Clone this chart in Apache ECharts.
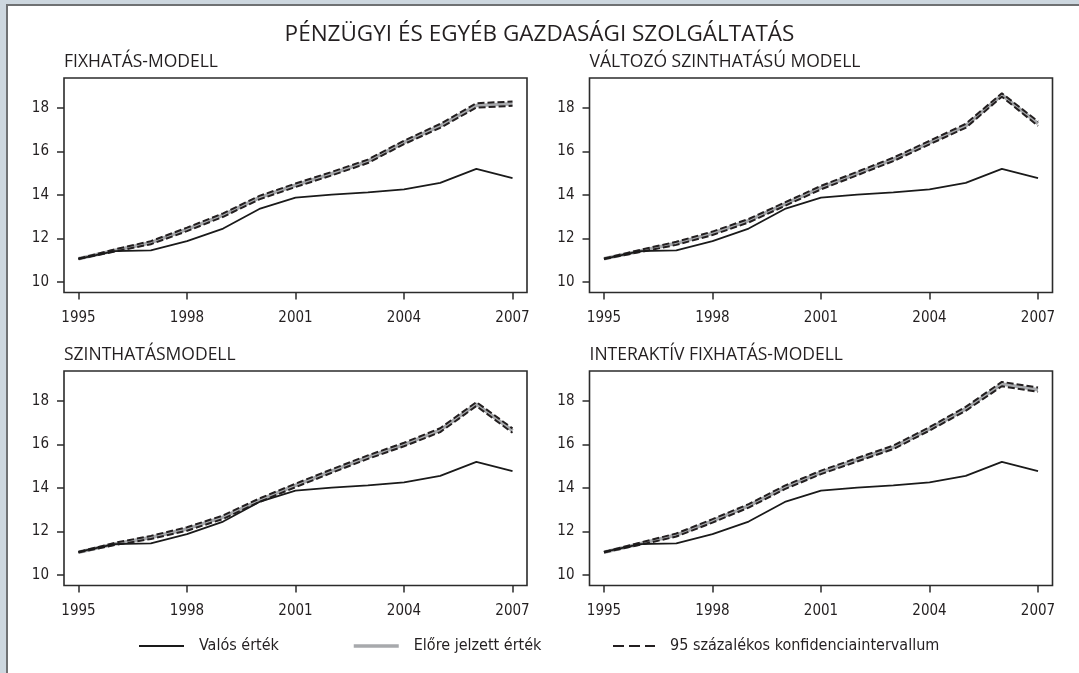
<!DOCTYPE html>
<html>
<head>
<meta charset="utf-8">
<title>Pénzügyi és egyéb gazdasági szolgáltatás</title>
<script src="https://cdn.jsdelivr.net/npm/echarts@6/dist/echarts.min.js"></script>
<style>
  html, body { margin: 0; padding: 0; background: #cdd7df; }
  .frame {
    position: absolute; left: 6px; top: 4px; right: 0; bottom: 0;
    background: #fff;
    border-left: 2px solid #6f7173;
    border-top: 2px solid #6f7173;
  }
  #chart { position: absolute; left: 0; top: 0; width: 1079px; height: 673px; }
</style>
</head>
<body>
<div class="frame"></div>
<div id="chart"></div>
<script>
// adatok (ábráról leolvasva)
const years = [1995, 1996, 1997, 1998, 1999, 2000, 2001, 2002, 2003, 2004, 2005, 2006, 2007]
const yearTicks = [1995, 1998, 2001, 2004, 2007]
const valueTicks = [10, 12, 14, 16, 18]

const actual = [11.07, 11.42, 11.46, 11.88, 12.46, 13.36, 13.88, 14.02, 14.12, 14.26, 14.56, 15.20, 14.78]

const predFixed = [11.07, 11.45, 11.81, 12.42, 13.08, 13.88, 14.45, 14.98, 15.55, 16.42, 17.18, 18.12, 18.20]
const upperFixed = [11.08, 11.50, 11.88, 12.50, 13.16, 13.96, 14.53, 15.06, 15.63, 16.50, 17.27, 18.22, 18.30]
const lowerFixed = [11.06, 11.40, 11.74, 12.34, 13.00, 13.80, 14.37, 14.90, 15.47, 16.34, 17.09, 18.02, 18.10]

const predVarying = [11.07, 11.43, 11.78, 12.24, 12.82, 13.58, 14.34, 14.99, 15.64, 16.41, 17.18, 18.60, 17.28]
const upperVarying = [11.08, 11.48, 11.85, 12.32, 12.90, 13.66, 14.42, 15.07, 15.72, 16.49, 17.27, 18.68, 17.38]
const lowerVarying = [11.06, 11.38, 11.71, 12.16, 12.74, 13.50, 14.26, 14.91, 15.56, 16.33, 17.09, 18.52, 17.18]

const predLevel = [11.05, 11.43, 11.73, 12.12, 12.66, 13.44, 14.12, 14.78, 15.42, 16.00, 16.66, 17.86, 16.64]
const upperLevel = [11.06, 11.48, 11.80, 12.20, 12.74, 13.52, 14.20, 14.86, 15.50, 16.08, 16.75, 17.95, 16.74]
const lowerLevel = [11.04, 11.38, 11.66, 12.04, 12.58, 13.36, 14.04, 14.70, 15.34, 15.92, 16.57, 17.77, 16.54]

const predInteractive = [11.05, 11.44, 11.84, 12.49, 13.18, 14.03, 14.72, 15.30, 15.87, 16.72, 17.64, 18.78, 18.52]
const upperInteractive = [11.06, 11.49, 11.91, 12.57, 13.26, 14.11, 14.80, 15.38, 15.95, 16.80, 17.73, 18.88, 18.62]
const lowerInteractive = [11.04, 11.39, 11.77, 12.41, 13.10, 13.95, 14.64, 15.22, 15.79, 16.64, 17.55, 18.68, 18.42]

const mainTitle = 'PÉNZÜGYI ÉS EGYÉB GAZDASÁGI SZOLGÁLTATÁS'
const panelTitles = ['FIXHATÁS-MODELL', 'VÁLTOZÓ SZINTHATÁSÚ MODELL', 'SZINTHATÁSMODELL', 'INTERAKTÍV FIXHATÁS-MODELL']
const nameActual = 'Valós érték'
const namePred = 'Előre jelzett érték'
const nameCI = '95 százalékos konfidenciaintervallum'

const panels = [
  { pred: predFixed, upper: upperFixed, lower: lowerFixed },
  { pred: predVarying, upper: upperVarying, lower: lowerVarying },
  { pred: predLevel, upper: upperLevel, lower: lowerLevel },
  { pred: predInteractive, upper: upperInteractive, lower: lowerInteractive }
]

// stílus
const textColor = '#231f20'
const titleFont = "'Open Sans', 'Noto Sans', sans-serif"
const narrowFont = "'Liberation Sans Narrow', 'DejaVu Sans Condensed', sans-serif"

const gridPos = [
  { left: 64, top: 78 },
  { left: 589.5, top: 78 },
  { left: 64, top: 371 },
  { left: 589.5, top: 371 }
]

const toPairs = (arr) => years.map((y, i) => [y, arr[i]])

const grids = gridPos.map(p => ({
  left: p.left,
  top: p.top,
  width: 463,
  height: 214.5,
  show: true,
  borderColor: '#2b2b2b',
  borderWidth: 1.6,
  backgroundColor: 'transparent'
}))

const xAxes = gridPos.map((p, i) => ({
  type: 'value',
  gridIndex: i,
  min: 1994.6,
  max: 2007.4,
  splitLine: { show: false },
  axisLine: { show: false },
  axisTick: { show: true, length: 7, customValues: yearTicks, lineStyle: { color: '#2b2b2b', width: 1.5 } },
  axisLabel: {
    customValues: yearTicks,
    margin: 18,
    fontFamily: narrowFont,
    fontSize: 15,
    color: textColor,
    formatter: v => String(v)
  }
}))

const yAxes = gridPos.map((p, i) => ({
  type: 'value',
  gridIndex: i,
  min: 9.52,
  max: 19.38,
  splitLine: { show: false },
  axisLine: { show: false },
  axisTick: { show: true, length: 7, customValues: valueTicks, lineStyle: { color: '#2b2b2b', width: 1.5 } },
  axisLabel: {
    customValues: valueTicks,
    margin: 15,
    fontFamily: narrowFont,
    fontSize: 15,
    color: textColor
  }
}))

const series = []
panels.forEach((p, i) => {
  series.push({
    name: namePred, type: 'line', xAxisIndex: i, yAxisIndex: i,
    data: toPairs(p.pred), symbol: 'none', z: 2,
    lineStyle: { color: '#a7a9ac', width: 3.5 }, itemStyle: { color: '#a7a9ac' }
  })
  series.push({
    name: nameCI, type: 'line', xAxisIndex: i, yAxisIndex: i,
    data: toPairs(p.upper), symbol: 'none', z: 3,
    lineStyle: { color: '#231f20', width: 2, type: [7, 3] }, itemStyle: { color: '#231f20' }
  })
  series.push({
    name: nameCI, type: 'line', xAxisIndex: i, yAxisIndex: i,
    data: toPairs(p.lower), symbol: 'none', z: 3,
    lineStyle: { color: '#231f20', width: 2, type: [7, 3] }, itemStyle: { color: '#231f20' }
  })
  series.push({
    name: nameActual, type: 'line', xAxisIndex: i, yAxisIndex: i,
    data: toPairs(actual), symbol: 'none', z: 4,
    lineStyle: { color: '#1a1a1a', width: 1.8 }, itemStyle: { color: '#1a1a1a' }
  })
})

// jelmagyarázat: csak vonal, pont nélkül
const legendBase = {
  top: 638,
  itemWidth: 45,
  itemHeight: 20,
  selectedMode: false,
  padding: 0,
  itemStyle: { opacity: 0, color: 'transparent', borderWidth: 0 },
  textStyle: { fontFamily: narrowFont, fontSize: 16, color: textColor, padding: [0, 0, 0, 10] }
}

const titles = [
  {
    text: mainTitle, left: 'center', top: 23, padding: 0,
    textStyle: { fontFamily: titleFont, fontSize: 22.5, fontWeight: 'normal', color: textColor }
  }
].concat(panelTitles.map((t, i) => ({
  text: t,
  left: gridPos[i].left,
  top: gridPos[i].top - 25,
  padding: 0,
  textStyle: { fontFamily: titleFont, fontSize: 17.5, fontWeight: 'normal', color: textColor }
})))

const chart = echarts.init(document.getElementById('chart'))
chart.setOption({
  animation: false,
  title: titles,
  legend: [
    Object.assign({}, legendBase, { left: 138, data: [nameActual] }),
    Object.assign({}, legendBase, { left: 352, data: [namePred], lineStyle: { width: 3.5 } }),
    Object.assign({}, legendBase, { left: 612, itemWidth: 42, data: [nameCI], lineStyle: { type: [11, 5], width: 2 } })
  ],
  grid: grids,
  xAxis: xAxes,
  yAxis: yAxes,
  series: series
})
</script>
</body>
</html>
